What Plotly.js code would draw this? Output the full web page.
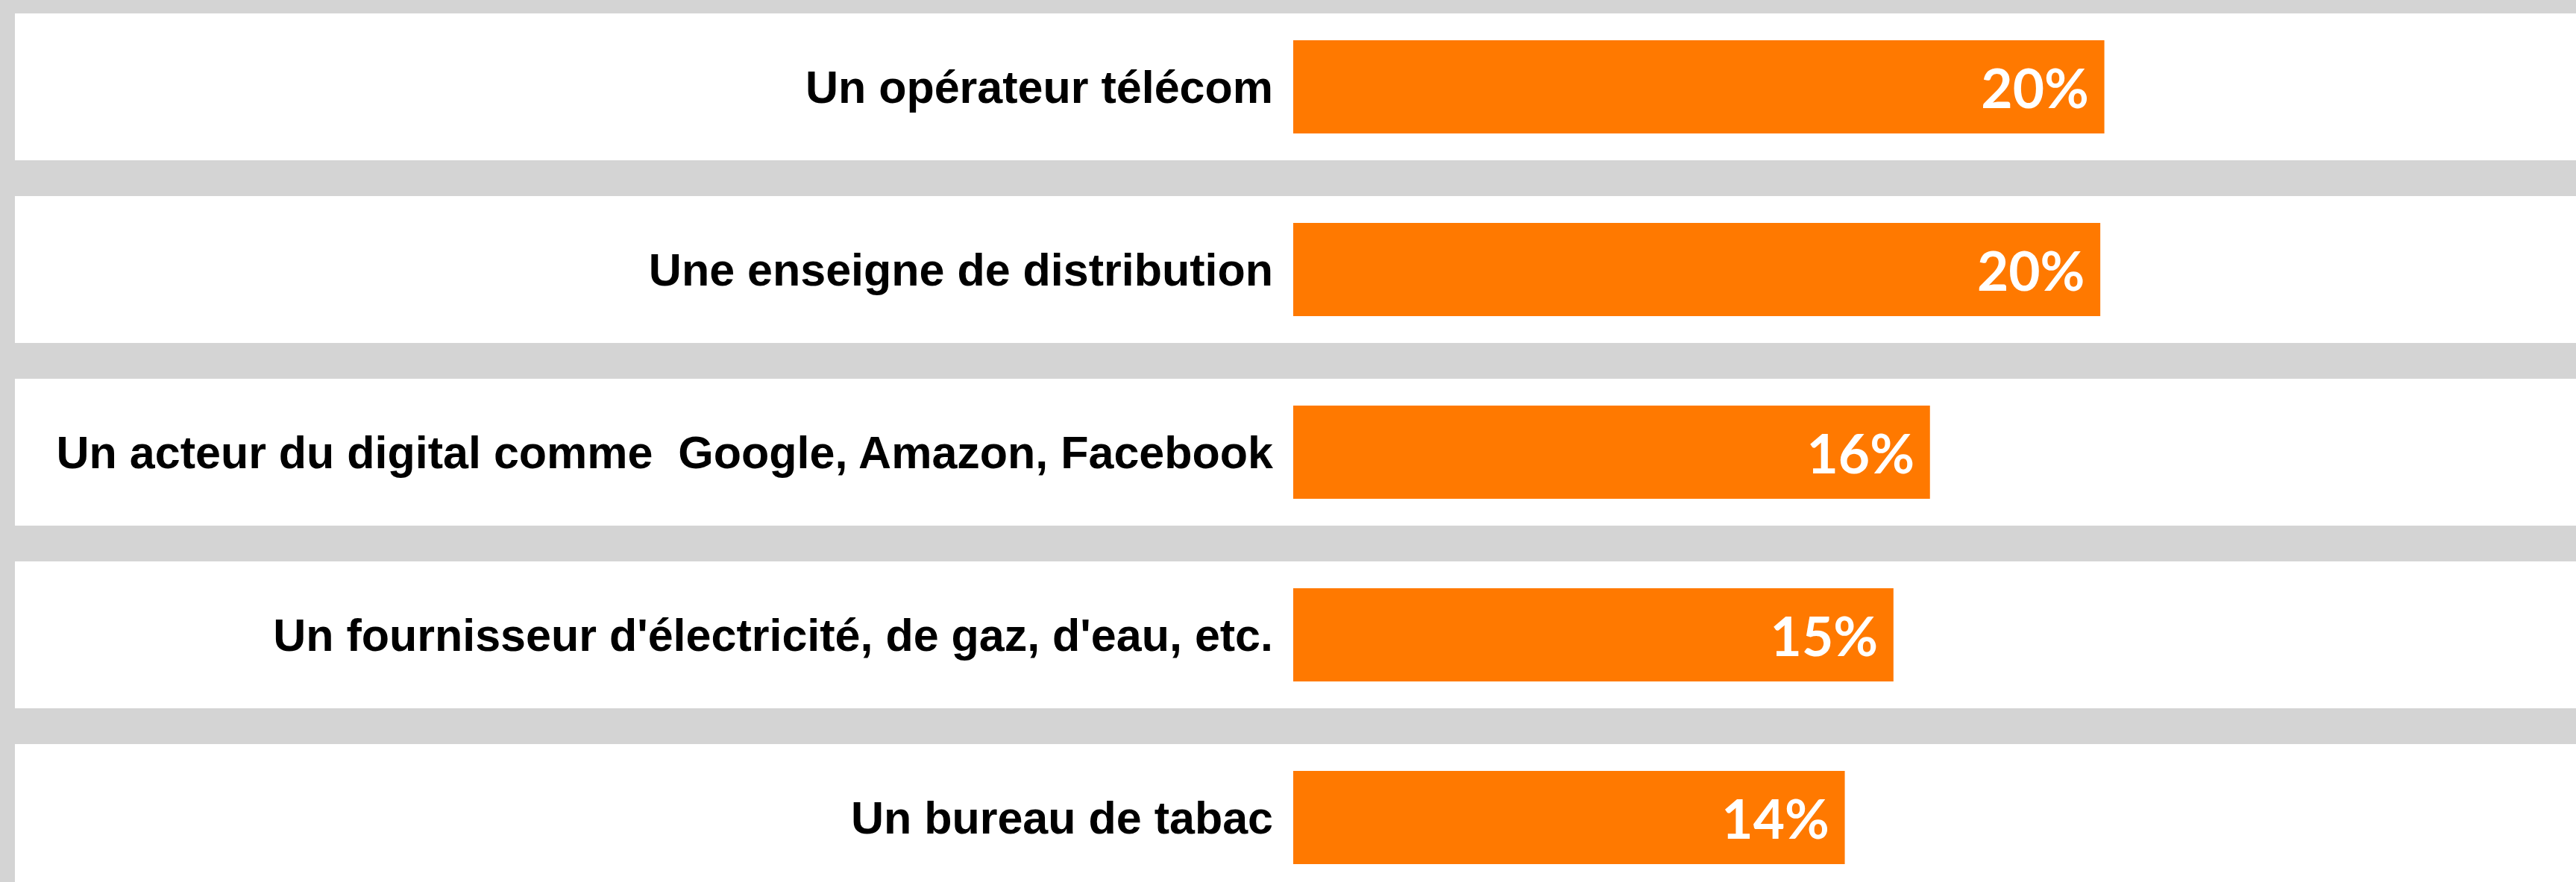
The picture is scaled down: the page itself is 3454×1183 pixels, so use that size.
<!DOCTYPE html>
<html>
<head>
<meta charset="utf-8">
<script src="https://cdn.plot.ly/plotly-3.0.1.min.js"></script>
<style>
  html, body { margin: 0; padding: 0; background: #d4d4d4; }
  #chart { width: 3454px; height: 1183px; }
</style>
</head>
<body>
<div id="chart"></div>
<script>
const categories = [
  "Un opérateur télécom",
  "Une enseigne de distribution",
  "Un acteur du digital comme  Google, Amazon, Facebook",
  "Un fournisseur d'électricité, de gaz, d'eau, etc.",
  "Un bureau de tabac"
];
const values = [20.0, 19.9, 15.7, 14.8, 13.6];
const labels = ["20%", "20%", "16%", "15%", "14%"];

const W = 3454, H = 1183;
const plotLeft = 1734;
const bandLeft = 20;
const pxPerUnit = 54.38;
const xMax = (W - plotLeft) / pxPerUnit;

// vertical geometry: category spacing 245px, first center at 116.5px
const step = 245, firstCenter = 116.5;
const yTop = -firstCenter / step;
const yBottom = (H - firstCenter) / step;

const shapes = categories.map((c, i) => ({
  type: 'rect', layer: 'below',
  xref: 'paper', yref: 'y',
  x0: -(plotLeft - bandLeft) / (W - plotLeft), x1: 1.01,
  y0: i - 0.402, y1: i + 0.402,
  fillcolor: '#ffffff', line: { width: 0 }
}));

const trace = {
  type: 'bar',
  orientation: 'h',
  y: categories.map((c, i) => i),
  x: values,
  text: labels.map(t => t + '\u00a0'),
  textposition: 'inside',
  insidetextanchor: 'end',
  constraintext: 'none',
  textfont: { family: 'Lato, "Open Sans", sans-serif', size: 73, color: '#ffffff', weight: 700 },
  marker: { color: '#ff7900', line: { width: 0 } },
  hoverinfo: 'none',
  cliponaxis: false
};

const layout = {
  width: W, height: H,
  margin: { l: plotLeft, r: 0, t: 0, b: 0, pad: 0 },
  paper_bgcolor: '#d4d4d4',
  plot_bgcolor: 'rgba(0,0,0,0)',
  showlegend: false,
  bargap: 0.49,
  shapes: shapes,
  xaxis: {
    range: [0, xMax], visible: false, showgrid: false, zeroline: false, fixedrange: true
  },
  yaxis: {
    range: [yBottom, yTop],
    tickmode: 'array',
    tickvals: categories.map((c, i) => i),
    ticktext: categories,
    showgrid: false, zeroline: false, showline: false,
    ticks: '', ticklabelstandoff: 26,
    tickfont: { family: '"Liberation Sans", Arial, sans-serif', size: 61, color: '#000000', weight: 700 },
    fixedrange: true
  }
};

Plotly.newPlot('chart', [trace], layout, { staticPlot: true, displayModeBar: false });
</script>
</body>
</html>
